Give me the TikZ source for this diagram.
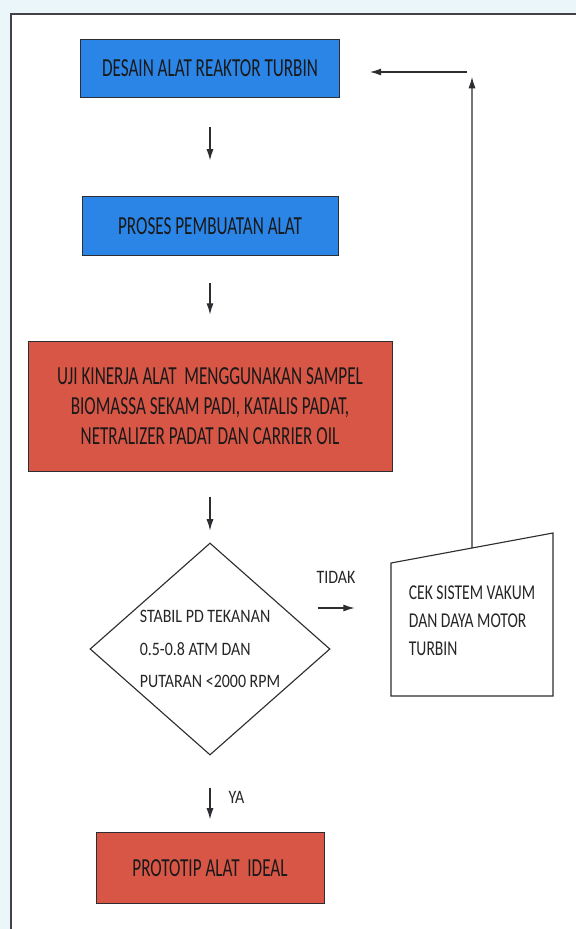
\documentclass[tikz,border=0pt]{standalone}
\usepackage{fontspec}
\setmainfont{Carlito}
\newfontfamily\boxfont{Carlito}[FakeStretch=0.66]
\newfontfamily\notefont{Carlito}[FakeStretch=0.84]
\newfontfamily\narrowfont{Carlito}[FakeStretch=0.74]
\usepackage{xcolor}
\usetikzlibrary{shapes,arrows.meta,positioning,calc}

\definecolor{boxblue}{RGB}{43,133,230}
\definecolor{boxred}{RGB}{216,86,70}
\definecolor{pagetint}{RGB}{234,246,249}
\definecolor{inkgray}{RGB}{45,45,50}

\begin{document}
\begin{tikzpicture}[
    block/.style={rectangle, draw=inkgray, line width=0.7pt, align=center, text=black!90, inner sep=0pt, font=\boxfont\fontsize{18.5}{21.3}\selectfont},
    decision/.style={diamond, draw=inkgray, line width=0.8pt, aspect=1.13, inner sep=0pt, minimum width=6cm, minimum height=5.3cm, align=left, text=black!85, font=\notefont\fontsize{13.5}{23}\selectfont},
    manual/.style={draw=inkgray, line width=0.8pt, fill=white},
    cektext/.style={align=left, inner sep=0pt, text=black!85, font=\narrowfont\fontsize{15}{20}\selectfont},
    label/.style={inner sep=0pt, text=black!85, font=\notefont\fontsize{13.5}{15}\selectfont},
    arrow/.style={-{Latex[length=8pt,width=5pt]}, line width=0.8pt, draw=inkgray},
    frame/.style={draw=inkgray!90, line width=1pt}
]

% ── Page and frame ──
\fill[pagetint] (0,0) rectangle (14.4,-23.225);
\fill[white] (0.275,-0.35) rectangle (14.4,-23.225);
\useasboundingbox (0,0) rectangle (14.4,-23.225);
\draw[frame] (0.275,-23.225) -- (0.275,-0.35) -- (14.4,-0.35);

% ── Process boxes ──
\node[block, fill=boxblue, minimum width=6.475cm, minimum height=1.45cm] (desain) at (5.25,-1.7) {DESAIN ALAT REAKTOR TURBIN};
\node[block, fill=boxblue, minimum width=6.4cm, minimum height=1.475cm] (proses) at (5.25,-5.66) {PROSES PEMBUATAN ALAT};
\node[block, fill=boxred, minimum width=9.1cm, minimum height=3.25cm] (uji) at (5.25,-10.15) {UJI KINERJA ALAT\ \ MENGGUNAKAN SAMPEL\\BIOMASSA SEKAM PADI, KATALIS PADAT,\\NETRALIZER PADAT DAN CARRIER OIL};

% ── Decision ──
\node[decision] (stabil) at (5.25,-16.225) {STABIL PD TEKANAN\\0.5-0.8 ATM DAN\\PUTARAN <2000 RPM};

% ── Result ──
\node[block, fill=boxred, minimum width=5.7cm, minimum height=1.775cm] (prototip) at (5.25,-21.71) {PROTOTIP ALAT\ \ IDEAL};

% ── Manual check (slanted top) ──
\coordinate (cekTL) at (9.775,-14.075);
\coordinate (cekTR) at (13.825,-13.325);
\coordinate (cekBR) at (13.825,-17.4);
\coordinate (cekBL) at (9.775,-17.4);
\draw[manual] (cekTL) -- (cekTR) -- (cekBR) -- (cekBL) -- cycle;
\node[cektext] (cek) at (11.8,-15.525) {CEK SISTEM VAKUM\\DAN DAYA MOTOR\\TURBIN};

% ── Main flow arrows ──
\draw[arrow] ([yshift=-0.75cm]desain.south) -- ([yshift=0.9cm]proses.north);
\draw[arrow] ([yshift=-0.675cm]proses.south) -- ([yshift=0.65cm]uji.north);
\draw[arrow] ([yshift=-0.625cm]uji.south) -- ([yshift=0.3cm]stabil.north);
\draw[arrow] ([yshift=-0.8cm]stabil.south) -- ([yshift=0.325cm]prototip.north)
  node[pos=0.3, right=0.45cm, label] {YA};

% ── No branch ──
\draw[arrow] ([xshift=-0.325cm,yshift=1.025cm]stabil.east) -- ([xshift=0.6cm,yshift=1.025cm]stabil.east)
  node[midway, above=0.6cm, label] {TIDAK};

% ── Loop back to design ──
\coordinate (cekTop) at ($(cekTL)!0.5!(cekTR)$);
\coordinate (loopUp) at (11.8,-1.925);
\coordinate (loopStart) at (11.675,-1.8);
\draw[arrow] (cekTop) -- (loopUp);
\draw[arrow] (loopStart) -- ([xshift=0.75cm,yshift=-0.1cm]desain.east);

\end{tikzpicture}
\end{document}
